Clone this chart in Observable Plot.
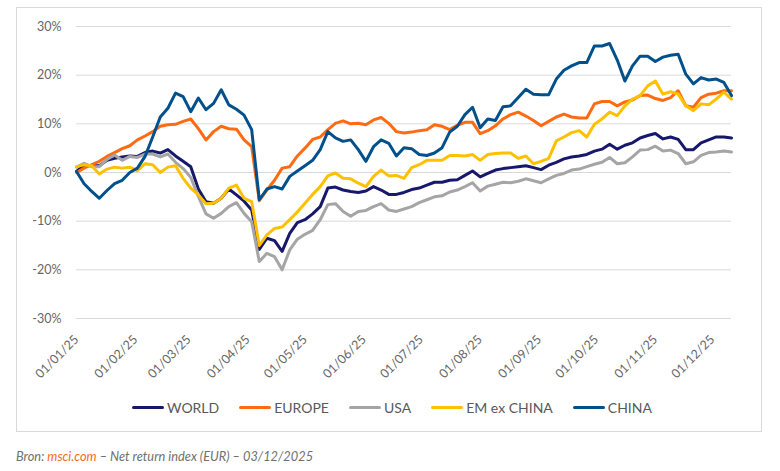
<!DOCTYPE html>
<html>
<head>
<meta charset="utf-8">
<script src="https://cdn.jsdelivr.net/npm/d3@7"></script>
<script src="https://cdn.jsdelivr.net/npm/@observablehq/plot@0.6"></script>
<style>
  html, body { margin: 0; padding: 0; background: #fff; }
  body { width: 780px; height: 471px; position: relative; overflow: hidden; font-family: Lato, "Open Sans", sans-serif; }
  #frame { position: absolute; left: 16px; top: 7px; width: 746px; height: 425px; box-sizing: border-box; border: 1px solid #d9d9d9; pointer-events: none; }
  #chart svg { display: block; }
  #legend { display: flex; justify-content: center; align-items: center; gap: 20px; height: 20px; margin-top: 12px; font-size: 14px; color: #595959; padding-left: 4px; }
  .item { display: flex; align-items: center; gap: 3px; }
  .sw { width: 32px; height: 3px; border-radius: 1.5px; }
  #caption { position: absolute; left: 16px; top: 448px; font-size: 12.8px; font-style: italic; color: #707070; line-height: 16px; }
  #caption .src { color: #f26b21; }
</style>
</head>
<body>
<div id="chart"></div>
<div id="legend"></div>
<div id="frame"></div>
<div id="caption">Bron: <span class="src">msci.com</span> – Net return index (EUR) – 03/12/2025</div>
<script>
const dates = [
  "2025-01-01","2025-01-05","2025-01-09","2025-01-13","2025-01-17","2025-01-21","2025-01-25","2025-01-29",
  "2025-02-02","2025-02-06","2025-02-10","2025-02-14","2025-02-18","2025-02-22","2025-02-26",
  "2025-03-02","2025-03-06","2025-03-10","2025-03-14","2025-03-18","2025-03-22","2025-03-26","2025-03-30",
  "2025-04-03","2025-04-07","2025-04-11","2025-04-15","2025-04-19","2025-04-23","2025-04-27",
  "2025-05-01","2025-05-05","2025-05-09","2025-05-13","2025-05-17","2025-05-21","2025-05-25","2025-05-29",
  "2025-06-02","2025-06-06","2025-06-10","2025-06-14","2025-06-18","2025-06-22","2025-06-26","2025-06-30",
  "2025-07-04","2025-07-08","2025-07-12","2025-07-16","2025-07-20","2025-07-24","2025-07-28",
  "2025-08-01","2025-08-05","2025-08-09","2025-08-13","2025-08-17","2025-08-21","2025-08-25","2025-08-29",
  "2025-09-02","2025-09-06","2025-09-10","2025-09-14","2025-09-18","2025-09-22","2025-09-26","2025-09-30",
  "2025-10-04","2025-10-08","2025-10-12","2025-10-16","2025-10-20","2025-10-24","2025-10-28",
  "2025-11-01","2025-11-05","2025-11-09","2025-11-13","2025-11-17","2025-11-21","2025-11-25","2025-11-29",
  "2025-12-03","2025-12-07","2025-12-11"
];

const world = [0.2,1.5,1.4,1.4,2.5,2.9,3.2,3.4,3.3,4.1,4.4,4.0,4.7,3.4,2.3,1.2,-3.4,-6.0,-6.3,-5.3,-3.4,-4.6,-5.9,-7.7,-15.8,-13.5,-14.0,-16.2,-12.5,-10.3,-9.7,-8.5,-7.0,-3.2,-3.0,-3.6,-3.9,-4.1,-3.8,-2.9,-3.6,-4.5,-4.5,-4.1,-3.5,-3.2,-2.6,-2.0,-2.0,-1.6,-1.5,-0.6,0.3,-0.9,-0.2,0.5,0.8,1.0,1.2,1.4,1.0,0.6,1.5,2.1,2.8,3.2,3.4,3.7,4.4,4.8,5.8,4.8,5.6,6.1,7.1,7.6,8.0,6.9,7.3,6.8,4.7,4.7,6.1,6.7,7.3,7.3,7.1];
const europe = [0.0,0.9,1.6,2.3,3.3,4.1,4.9,5.5,6.7,7.5,8.4,9.5,9.8,9.9,10.5,11.0,9.0,6.7,8.4,9.5,9.0,8.9,6.7,5.3,-5.8,-3.6,-1.6,0.9,1.2,3.4,5.0,6.8,7.3,8.8,10.1,10.6,10.0,10.1,9.8,10.8,11.3,10.1,8.4,8.1,8.3,8.6,8.8,9.8,9.5,8.8,9.7,10.3,10.3,8.0,8.6,9.6,11.0,11.9,12.4,11.6,10.7,9.6,10.5,11.4,12.0,11.4,11.2,11.2,14.1,14.6,14.6,13.7,14.5,14.9,15.8,15.9,15.2,14.8,15.4,16.8,13.7,13.4,15.4,16.1,16.3,16.8,16.8];
const usa = [1.1,1.9,1.2,1.2,2.7,3.6,2.5,3.3,3.1,3.8,3.8,3.2,3.8,2.1,0.8,-1.0,-4.9,-8.5,-9.4,-8.4,-7.0,-6.2,-8.4,-10.1,-18.3,-16.6,-17.3,-20.0,-15.9,-13.7,-12.7,-11.9,-9.7,-6.6,-6.4,-8.0,-9.0,-8.0,-7.8,-7.0,-6.4,-7.7,-8.0,-7.5,-7.0,-6.2,-5.6,-5.0,-4.8,-4.0,-3.6,-2.9,-2.1,-3.8,-2.8,-2.4,-2.0,-2.1,-1.8,-1.3,-1.7,-2.1,-1.3,-0.6,-0.2,0.5,0.7,1.2,1.7,2.1,3.1,1.8,2.0,3.2,4.6,4.7,5.4,4.4,4.6,3.9,1.8,2.2,3.5,4.1,4.2,4.4,4.2];
const emExChina = [1.2,1.6,1.4,-0.3,0.7,1.1,0.9,1.1,0.4,1.8,1.6,0.0,1.1,1.4,-1.2,-3.2,-4.6,-6.4,-6.3,-5.3,-3.2,-2.6,-5.3,-6.0,-15.0,-12.8,-11.5,-11.2,-9.7,-8.1,-6.3,-4.5,-2.9,-0.7,-0.1,-1.2,-1.3,-2.2,-2.9,-0.8,0.5,-0.7,-0.6,-1.2,1.0,1.6,2.5,2.5,2.5,3.5,3.5,3.4,3.7,2.5,3.7,3.9,4.0,4.0,2.9,3.4,1.8,2.3,2.9,6.5,7.3,8.2,8.6,7.3,9.9,11.0,12.4,11.7,13.7,15.1,15.8,17.8,18.8,16.1,16.6,16.1,13.7,12.7,14.1,13.9,15.1,16.5,15.1];
const china = [0.2,-2.3,-3.9,-5.3,-3.7,-2.3,-1.6,0.0,0.9,3.3,7.3,11.4,13.2,16.3,15.6,12.5,15.3,12.9,14.2,17.0,13.9,13.0,11.8,8.8,-5.6,-3.4,-2.9,-3.4,-0.8,0.3,1.4,2.5,4.7,8.4,7.1,6.4,6.7,4.7,2.3,5.3,6.7,6.0,3.4,5.1,4.9,3.7,3.5,4.0,5.1,8.3,9.5,11.9,13.4,9.2,11.0,10.7,13.5,13.7,15.4,17.1,16.1,16.0,16.0,19.2,21.0,21.9,22.6,22.6,26.0,26.0,26.5,23.1,18.8,21.9,23.9,23.9,22.8,23.7,24.1,24.3,20.2,18.2,19.5,19.0,19.2,18.5,15.8];

const seriesNames = ["WORLD", "EUROPE", "USA", "EM ex CHINA", "CHINA"];
const seriesValues = [world, europe, usa, emExChina, china];
const seriesColors = ["#17186b", "#ff6b12", "#a5a5a5", "#ffc000", "#00508c"];

const yTicks = [30, 20, 10, 0, -10, -20, -30];
const yTickLabels = ["30%", "20%", "10%", "0%", "-10%", "-20%", "-30%"];
const xTickDates = ["2025-01-01","2025-02-01","2025-03-01","2025-04-01","2025-05-01","2025-06-01","2025-07-01","2025-08-01","2025-09-01","2025-10-01","2025-11-01","2025-12-01"];
const xTickLabels = ["01/01/25","01/02/25","01/03/25","01/04/25","01/05/25","01/06/25","01/07/25","01/08/25","01/09/25","01/10/25","01/11/25","01/12/25"];

const parse = d3.utcParse("%Y-%m-%d");
const rows = seriesNames.flatMap((name, j) =>
  seriesValues[j].map((v, i) => ({date: parse(dates[i]), value: v, series: name}))
);
const yTickRows = yTicks.map((v, i) => ({v, label: yTickLabels[i]}));
const xTickRows = xTickDates.map((d, i) => ({d: parse(d), label: xTickLabels[i]}));
const xDomain = [parse(dates[0]), parse(dates[dates.length - 1])];

const chart = Plot.plot({
  width: 780,
  height: 385,
  marginLeft: 76,
  marginRight: 49,
  marginTop: 26,
  marginBottom: 67,
  style: {fontFamily: "Lato, 'Open Sans', sans-serif", fontSize: "12px", background: "transparent", overflow: "visible"},
  x: {type: "utc", domain: xDomain, axis: null},
  y: {domain: [-30, 30], axis: null},
  color: {domain: seriesNames, range: seriesColors},
  marks: [
    Plot.ruleY(yTickRows, {y: "v", stroke: "#d9d9d9", strokeWidth: 1}),
    Plot.text(yTickRows, {x: xDomain[0], y: "v", text: "label", textAnchor: "end", dx: -15, fill: "#666", fontSize: 12.5}),
    Plot.text(xTickRows, {x: "d", y: -30, text: "label", rotate: -45, textAnchor: "end", dx: 0, dy: 19, fill: "#666", fontSize: 12.5}),
    Plot.line(rows, {x: "date", y: "value", z: "series", stroke: "series", strokeWidth: 3, strokeLinejoin: "round", strokeLinecap: "round"})
  ]
});
document.getElementById("chart").appendChild(chart);

const legend = document.getElementById("legend");
seriesNames.forEach((name, j) => {
  const item = document.createElement("div");
  item.className = "item";
  const sw = document.createElement("span");
  sw.className = "sw";
  sw.style.background = seriesColors[j];
  const label = document.createElement("span");
  label.textContent = name;
  item.appendChild(sw);
  item.appendChild(label);
  legend.appendChild(item);
});
</script>
</body>
</html>
